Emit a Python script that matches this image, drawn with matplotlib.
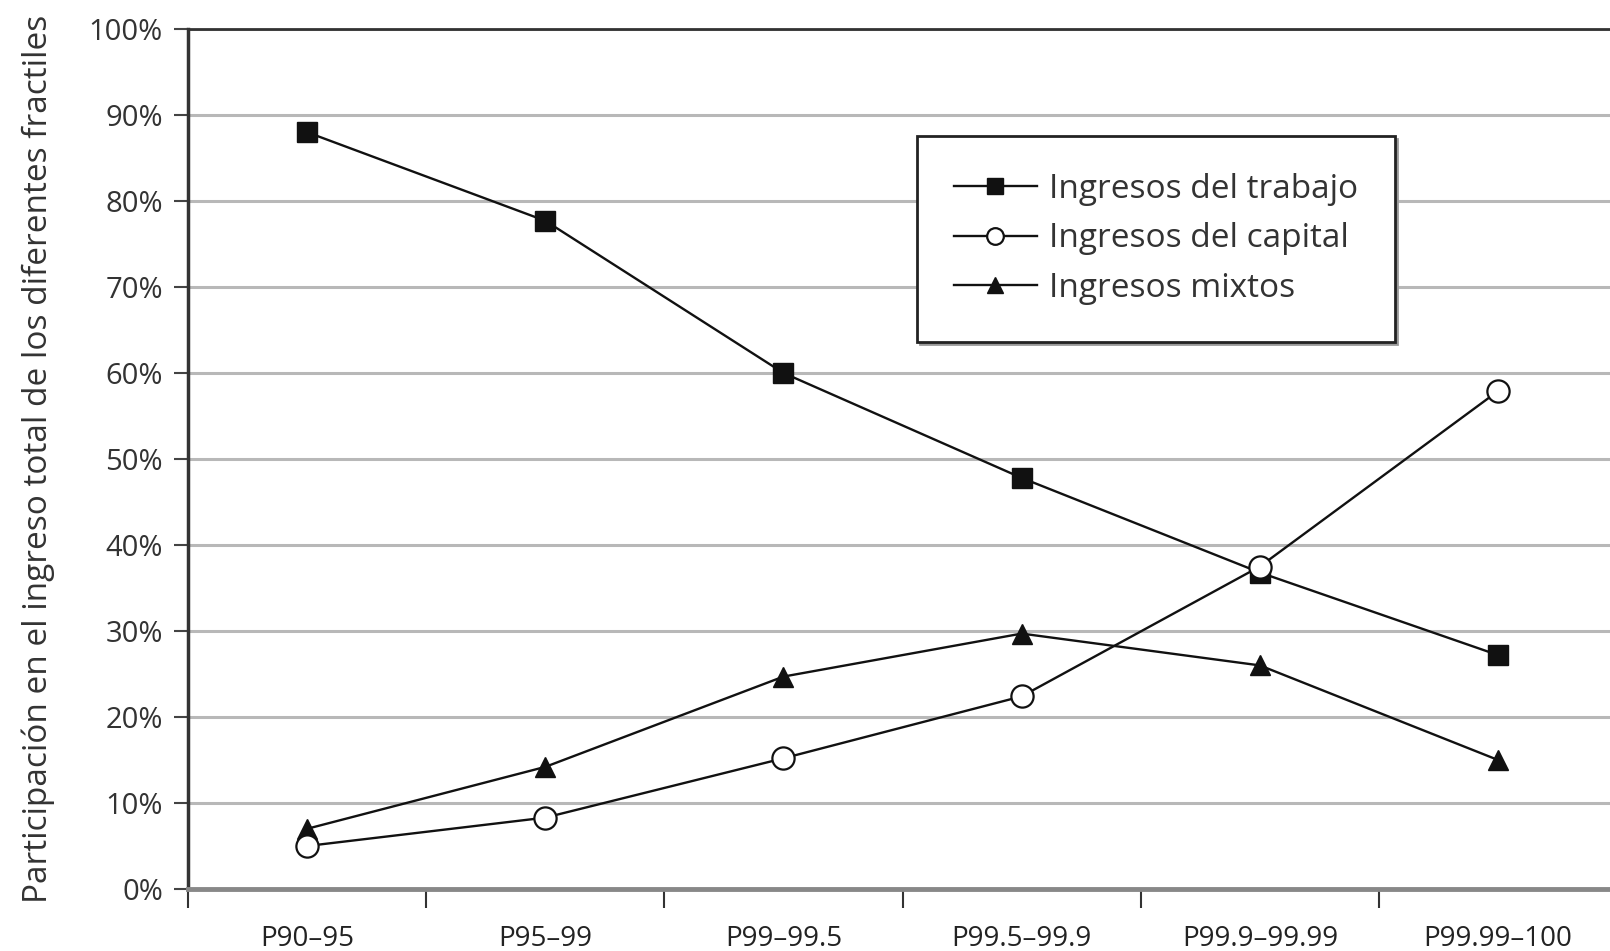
import numpy as np
import matplotlib.pyplot as plt

plt.rcParams['font.family'] = ['Open Sans', 'DejaVu Sans']

categorias = ['P90–95', 'P95–99', 'P99–99.5', 'P99.5–99.9', 'P99.9–99.99', 'P99.99–100']
trabajo = [88.0, 77.7, 60.0, 47.8, 36.8, 27.2]
capital = [5.0, 8.3, 15.2, 22.4, 37.5, 57.9]
mixtos = [7.0, 14.2, 24.7, 29.7, 26.0, 15.0]
etiquetas = ['Ingresos del trabajo', 'Ingresos del capital', 'Ingresos mixtos']

fig = plt.figure(figsize=(16.1, 9.51), dpi=100)
ax = fig.add_axes([188 / 1610, 62 / 951, 1 - 188 / 1610, (889 - 29) / 951])

x = np.arange(len(categorias))
ax.plot(x, trabajo, color='#111111', lw=1.7, marker='s', ms=15, mfc='#111111', mec='#111111',
        label=etiquetas[0], zorder=3)
ax.plot(x, capital, color='#111111', lw=1.7, marker='o', ms=16, mfc='white', mec='#111111', mew=1.6,
        label=etiquetas[1], zorder=4)
ax.plot(x, mixtos, color='#111111', lw=1.7, marker='^', ms=15, mfc='#111111', mec='#111111',
        label=etiquetas[2], zorder=3)

ax.set_ylim(0, 100)
ax.set_xlim(-0.5, 5.47)
ax.set_yticks(np.arange(0, 101, 10))
ax.set_yticklabels(['{}%'.format(v) for v in range(0, 101, 10)], fontsize=21, color='#333333')
ax.yaxis.grid(True, color='#b8b8b8', lw=2.2)
ax.set_axisbelow(True)

ax.set_xticks(x)
ax.set_xticklabels(categorias, fontsize=20, color='#222222')
ax.set_xticks(np.arange(-0.5, 5.0, 1), minor=True)
ax.tick_params(axis='x', which='major', length=0, pad=26)
ax.tick_params(axis='x', which='minor', length=14, width=1.5, color='#333333')
ax.tick_params(axis='y', length=10, width=1.5, color='#444444', pad=8)

ax.spines['right'].set_visible(False)
ax.spines['top'].set_color('#333333')
ax.spines['top'].set_linewidth(2)
ax.spines['left'].set_color('#333333')
ax.spines['left'].set_linewidth(2.5)
ax.spines['bottom'].set_color('#888888')
ax.spines['bottom'].set_linewidth(3.5)

ax.set_ylabel('Participación en el ingreso total de los diferentes fractiles', fontsize=24,
              color='#333333', labelpad=24)

leg = ax.legend(loc='upper left', bbox_to_anchor=(0.5127, 0.8756), fontsize=24, frameon=True,
                fancybox=False, edgecolor='#222222', borderpad=1.1, labelspacing=0.5,
                handlelength=2.5, handletextpad=0.35, borderaxespad=0,
                shadow={'color': '#999999', 'alpha': 1})
leg.get_frame().set_linewidth(2)
for t in leg.get_texts():
    t.set_color('#333333')
for h in leg.legend_handles:
    h.set_markersize(12)

fig.savefig('out.png', dpi=100)
